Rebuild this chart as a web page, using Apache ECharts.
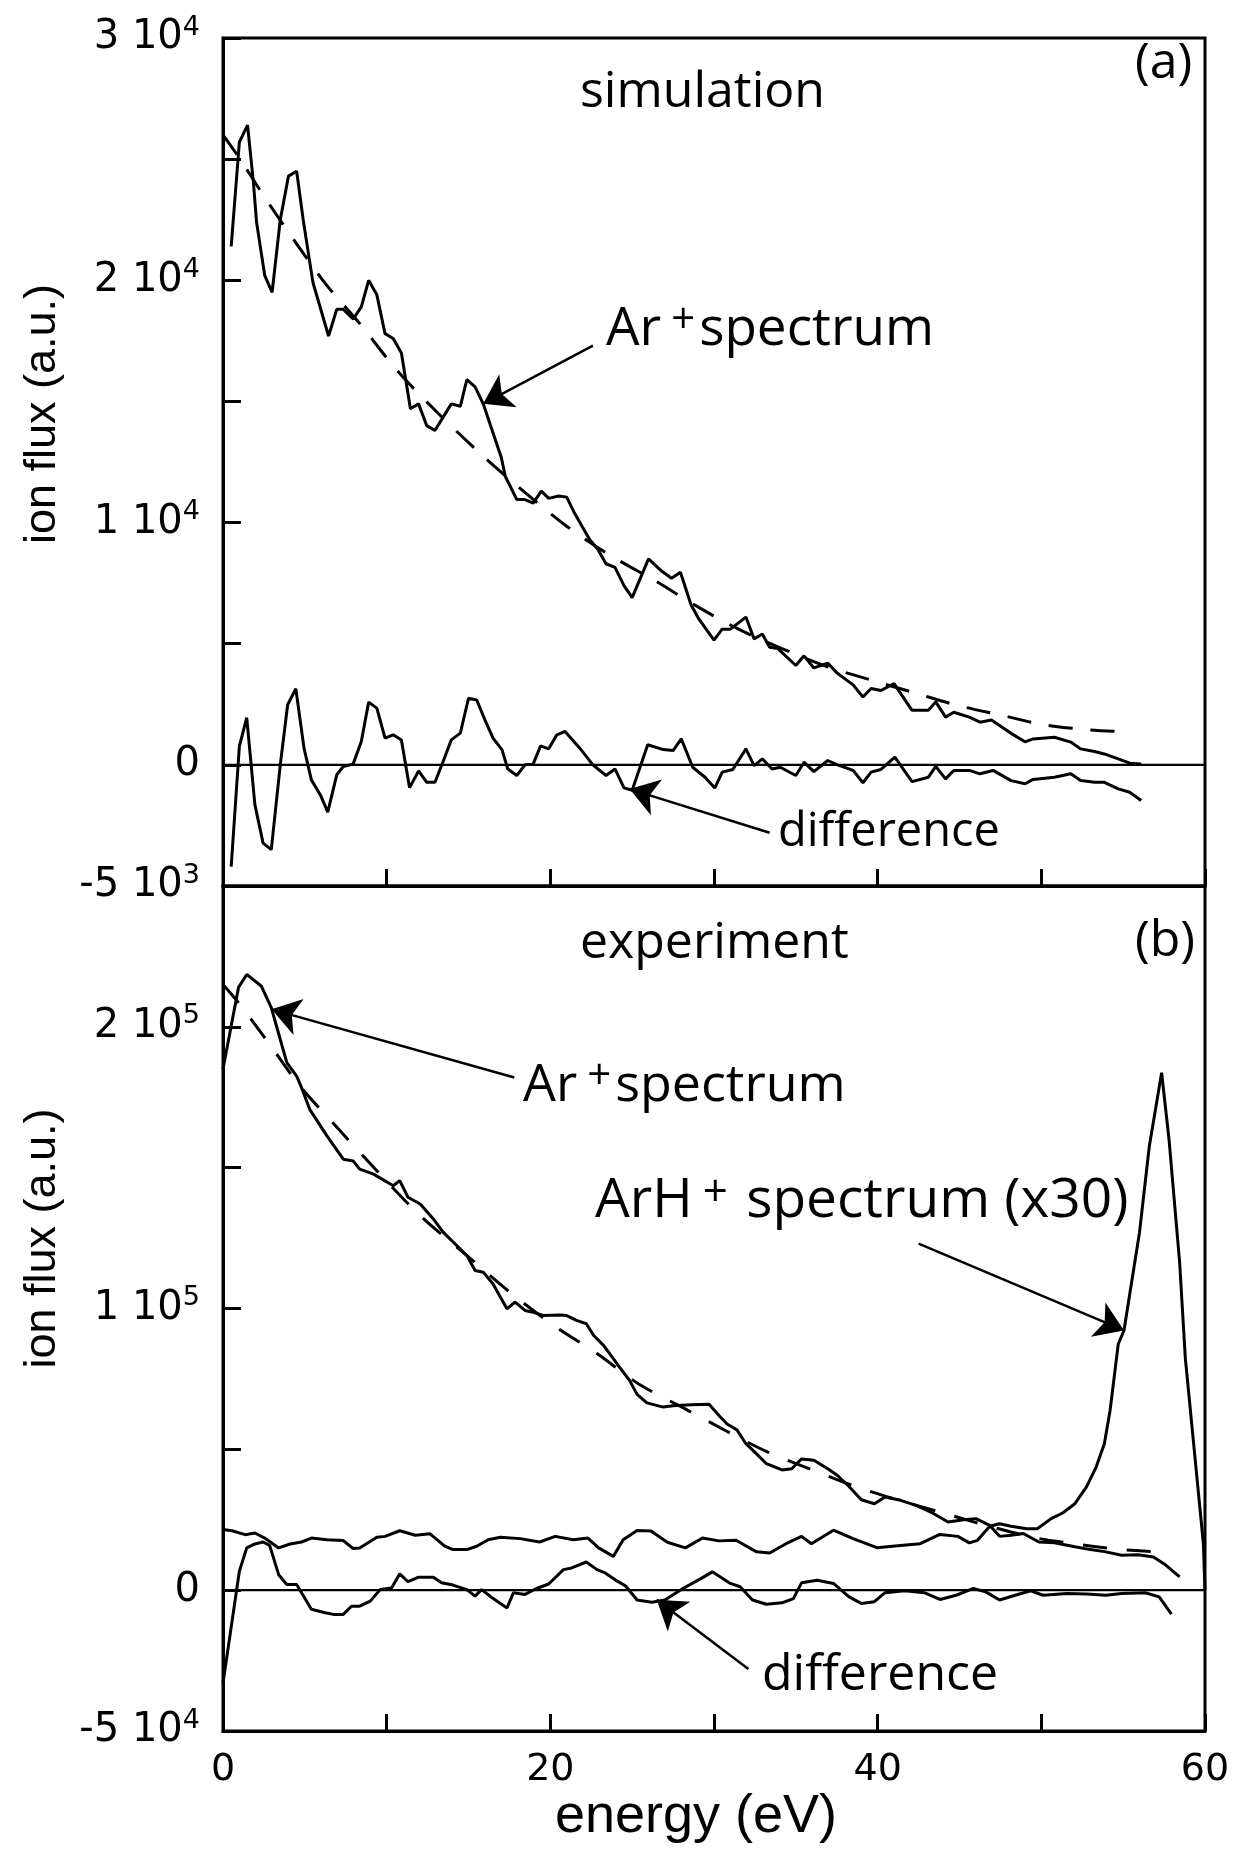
<!DOCTYPE html>
<html><head><meta charset="utf-8">
<script src="https://cdn.jsdelivr.net/npm/echarts@6/dist/echarts.min.js"></script>
<style>html,body{margin:0;padding:0;background:#fff}#c{width:1239px;height:1856px}</style>
</head><body><div id="c"></div>
<script>
// ---------- DATA (energy in eV, ion flux in units of 10^3 a.u.) ----------
// (a) simulation: Ar+ spectrum
const simSpecE = [0.5,1.0,1.5,1.85,2.05,2.55,3.0,3.5,4.0,4.5,4.9,5.3,5.5,6.45,6.95,7.35,7.95,8.45,8.9,9.4,9.9,10.4,10.9,11.45,11.95,12.45,12.95,13.95,14.5,14.9,15.4,15.9,16.5,17.0,17.25,17.55,17.95,18.45,18.95,19.45,19.9,20.5,21.0,21.5,22.4,22.9,23.4,23.95,24.5,25.0,26.0,26.8,27.4,27.95,28.6,29.05,30.0,30.5,31.0,31.95,32.45,32.95,33.4,33.9,35.0,35.5,36.1,36.95,37.5,38.5,39.1,39.6,40.2,41.0,42.1,43.1,43.55,44.15,44.65,45.6,46.25,46.95,48.15,49.0,49.5,50.8,51.8,52.4,53.25,53.85,54.7,55.4,56.1];
const simSpecV = [21.4,25.7,26.4,24.1,22.4,20.2,19.5,22.5,24.3,24.5,22.5,20.75,19.9,17.7,18.8,18.8,18.4,18.9,20.0,19.4,17.8,17.6,17.0,14.7,14.9,14.0,13.8,14.9,14.8,15.9,15.6,14.9,13.7,12.7,11.9,11.5,10.95,10.95,10.8,11.3,11.0,11.1,11.05,10.36,9.3,8.9,8.3,8.15,7.4,6.9,8.5,8.0,7.7,7.95,6.6,6.05,5.15,5.6,5.6,6.1,5.2,5.4,4.85,4.8,4.1,4.5,4.0,4.2,3.8,3.3,2.8,3.15,3.07,3.35,2.25,2.25,2.6,1.97,2.17,1.97,1.76,1.85,1.3,0.95,1.07,1.14,0.94,0.66,0.55,0.45,0.25,0.07,0.04];
// (a) simulation: fit (dashed)
const simFitE = [0,1.04,2.67,4.4,6.33,8.37,10.61,13.16,15.8,18.35,21.0,23.6,26.4,29.07,31.5,34.15,36.93,39.6,42.36,44.9,47.55,50.2,52.85,55.5];
const simFitV = [26.0,25.0,23.3,21.6,19.8,18.2,16.3,14.5,12.8,11.3,9.85,8.67,7.6,6.5,5.6,4.8,4.05,3.5,2.95,2.45,2.05,1.65,1.45,1.35];
// (a) simulation: difference
const simDiffE = [0.5,1.0,1.45,1.95,2.45,2.95,3.5,3.95,4.45,4.95,5.4,5.95,6.4,6.95,7.35,7.95,8.45,8.9,9.4,9.9,10.4,10.9,11.4,11.95,12.45,12.95,13.45,13.95,14.5,15.0,15.5,16.0,16.5,17.05,17.4,17.95,18.45,18.95,19.4,19.9,20.4,20.9,21.8,22.6,23.4,23.95,24.5,25.0,25.95,26.9,27.5,28.0,28.7,29.45,30.05,30.5,31.15,31.95,32.45,32.95,33.55,34.05,35.0,35.5,36.1,36.95,37.55,38.5,39.1,39.6,40.2,41.05,42.1,43.1,43.55,44.15,44.65,45.6,46.25,47.05,48.15,49.0,49.5,50.8,51.8,52.4,53.25,53.85,54.7,55.4,56.1];
const simDiffV = [-4.2,0.76,1.95,-1.65,-3.23,-3.5,0,2.48,3.14,0.69,-0.62,-1.24,-1.95,-0.41,-0.07,0.03,0.96,2.59,2.34,1.1,1.24,1.03,-0.94,-0.25,-0.72,-0.72,0.14,1.03,1.31,2.75,2.68,1.86,1.1,0.62,-0.17,-0.44,0,0.03,0.78,0.66,1.24,1.38,0.69,0,-0.44,-0.17,-0.95,-1.05,0.83,0.63,0.59,1.07,-0.1,-0.51,-0.96,-0.3,-0.19,0.66,-0.03,0.25,-0.17,-0.1,-0.44,0.11,-0.28,0.18,0,-0.23,-0.74,-0.3,-0.19,0.32,-0.69,-0.51,-0.06,-0.58,-0.23,-0.23,-0.37,-0.23,-0.65,-0.78,-0.6,-0.51,-0.37,-0.65,-0.72,-0.72,-0.99,-1.13,-1.47];

// (b) experiment: Ar+ spectrum
const expSpecE = [0,0.95,1.45,2.35,2.95,3.5,3.9,4.5,4.8,5.3,6.35,7.35,7.95,8.35,9.2,10.4,10.8,11.3,12.05,12.85,13.45,14.9,15.4,15.9,16.5,17.35,17.85,18.45,18.95,19.55,20.6,21.0,21.6,22.2,22.65,23.25,23.85,24.3,24.85,25.3,25.9,26.9,27.5,28.6,29.7,30.3,30.8,31.4,31.95,32.6,33.2,34.15,34.75,35.35,36.1,36.95,37.55,38.25,39.0,39.8,40.45,41.4,42.35,43.35,44.3,45.25,46.0,46.85,47.45,48.15,48.9,49.85,50.8,52.05,53.0,53.95,54.9,55.9,56.85,57.6,58.45];
const expSpecV = [185,214,218.6,214.4,206.8,195.5,187.3,182.5,178.4,170.7,161.3,153,152.4,149.5,147.7,143.6,145.4,139.5,137.1,131.8,127.1,118.8,113.5,112.9,108.7,99.9,102.3,99.3,98.7,97.5,97.7,97.5,95.8,94.6,90.4,86.9,82.2,78.6,74.4,69.5,66.5,65,65.5,65.8,66,62,59,56.9,52,48.4,44.9,42.7,43.1,46.6,46.1,43.1,40.7,36.8,32.1,30.7,33.1,31.9,30.1,27.4,24.2,25,25.4,23,19.1,19.5,20.1,17.1,16.8,15.4,14.4,13.6,12.4,12.6,11.8,8.9,4.7];
// (b) experiment: fit (dashed)
const expFitE = [0,0.95,2.95,4.7,7.25,9.7,12.15,14.9,17.65,20.2,22.85,25.45,28.1,30.75,33.3,36.1,38.75,41.65,44.3,47.0,49.7,52.0,54.55,57.35];
const expFitV = [215,208.5,193,179,162.5,147,132.4,118.8,105.2,94,84,73,64.8,56.5,49,42.5,36.6,31.3,26.9,22.4,18.5,16.5,14.6,13.5];
// (b) experiment: ArH+ spectrum (x30)
const arhE = [0,0.55,1.35,1.95,2.55,3.4,4.1,4.8,5.4,6.35,7.35,7.95,8.35,9.4,9.9,10.8,11.75,12.65,13.55,14.05,14.9,15.5,16.2,16.95,18.15,19.35,20.3,21.4,22.3,22.95,23.85,24.45,25.3,26.15,27.15,28.25,29.3,30.3,31.35,32.6,33.4,34.4,35.35,35.95,37.3,38.5,39.95,41.4,42.6,43.8,44.9,45.6,46.1,46.85,47.45,48.15,49.1,49.75,50.6,51.3,52.05,52.75,53.35,53.85,54.2,54.45,54.7,55.05,56.0,56.6,57.35,57.8,58.45,58.8,59.9,60];
const arhV = [21.5,21.1,19.7,20.3,18.5,15.0,16.4,17.1,18.5,17.9,17.6,14.8,15.0,18.8,19.1,21.1,19.5,20.0,15.6,14.4,14.4,15.6,17.9,18.8,18.3,17.1,19.1,17.9,18.5,15.0,12.0,17.9,21.2,21.0,17.0,15.0,18.5,17.5,17.7,13.6,13.2,16.5,19.1,16.5,21.3,18.3,15.1,15.9,16.5,19.8,19.1,16.8,17.7,22.7,23.6,22.7,21.8,21.8,25.4,27.4,30.7,36.6,43.7,52.0,63.8,75.6,87.4,92.2,127.1,157.7,183.7,160.1,116.4,82.2,16.5,0];
// (b) experiment: difference
const expDiffE = [0,1.0,1.45,1.95,2.45,2.85,3.4,3.9,4.5,4.8,5.4,6.25,6.75,7.35,7.85,8.35,9.0,9.6,10.3,10.8,11.3,11.95,12.85,13.35,14.05,14.9,15.4,15.8,16.4,17.35,17.75,18.45,19.15,19.9,20.8,21.3,22.2,22.85,23.35,24.1,24.6,25.3,26.2,27.0,28.1,29.2,29.9,31.0,31.6,32.35,33.2,34.15,34.85,35.35,36.3,37.3,38.25,39.0,39.8,40.45,41.65,42.85,43.8,44.8,45.85,46.6,47.45,48.4,49.35,50.1,51.55,52.75,53.95,54.9,56.35,57.2,57.95];
const expDiffV = [-33,6.7,15.0,16.4,17.1,15.9,5.5,2.0,2.0,-0.9,-6.8,-8.0,-8.6,-8.6,-5.7,-5.7,-3.9,0.2,0.8,5.8,3.0,4.6,4.6,2.6,1.8,0.2,-2.1,0.2,-2.5,-6.3,-0.9,-1.5,0.6,2.2,7.3,7.9,10.0,7.3,6.1,3.2,1.5,-3.5,-4.3,-3.5,0.6,4.1,6.5,2.4,1.2,-3.5,-5.0,-4.5,-3.0,2.6,3.5,2.4,-2.4,-4.7,-4.1,-0.9,-0.2,-0.9,-3.3,-1.8,0.6,-0.6,-3.5,-1.8,-0.2,-1.8,-1.2,-1.4,-1.8,-1.2,-0.9,-2.4,-8.5];

// zero reference lines
const zeroLineE = [0, 60];
const zeroLineV = [0, 0];

// annotation arrows: [fromE, fromV, toE, toV]
const topArrows = [[22.6, 17.3, 15.9, 14.9], [33.4, -2.8, 24.85, -1.0]];
const botArrows = [[17.8, 182, 2.97, 206.2], [42.5, 123, 55.05, 92.2], [32.1, -28, 26.5, -3.4]];

// tick labels
const xTickValues = [0, 20, 40, 60];
const topTickValues = [30, 20, 10, 0, -5];
const topTickMain = ['3 10', '2 10', '1 10', '0', '-5 10'];
const topTickExp = ['4', '4', '4', '', '3'];
const botTickValues = [200, 100, 0, -50];
const botTickMain = ['2 10', '1 10', '0', '-5 10'];
const botTickExp = ['5', '5', '', '4'];

// ---------- CHART ----------
const zip = (a, b) => a.map((x, i) => [x, b[i]]);
const BLACK = '#000';
const LW = 3;

function tickFormatter(vals, main, exp) {
  return function (v) {
    const i = vals.findIndex(t => Math.abs(t - v) < 1e-9);
    if (i < 0) return '';
    return '{n|' + main[i] + '}' + (exp[i] ? '{s|' + exp[i] + '}' : '');
  };
}
const tickRich = {
  n: { fontFamily: 'DejaVu Sans', fontSize: 40, lineHeight: 48, color: BLACK },
  s: { fontFamily: 'DejaVu Sans', fontSize: 27, lineHeight: 20, verticalAlign: 'top', color: BLACK }
};

function xAxisCfg(gridIndex, showLabels) {
  return {
    type: 'value', gridIndex, min: 0, max: 60, interval: 10,
    axisLine: { show: true, onZero: false, lineStyle: { color: BLACK, width: LW } },
    axisTick: { show: true, inside: true, length: 17, lineStyle: { color: BLACK, width: LW } },
    splitLine: { show: false },
    axisLabel: showLabels ? {
      show: true, margin: 20, color: BLACK, fontFamily: 'DejaVu Sans', fontSize: 38,
      formatter: v => (xTickValues.indexOf(v) >= 0 ? String(v) : '')
    } : { show: false },
    name: showLabels ? 'energy (eV)' : '',
    nameLocation: 'middle', nameGap: 58,
    nameTextStyle: { fontFamily: 'Liberation Sans', fontSize: 54, color: BLACK, padding: [0, 36, 0, 0] }
  };
}
function yAxisCfg(gridIndex, min, max, interval, fmt, shiftPad) {
  return {
    type: 'value', gridIndex, min, max, interval,
    axisLine: { show: true, onZero: false, lineStyle: { color: BLACK, width: LW } },
    axisTick: { show: true, inside: true, length: 18, lineStyle: { color: BLACK, width: LW } },
    splitLine: { show: false },
    axisLabel: { show: true, margin: 23, formatter: fmt, rich: tickRich },
    name: 'ion flux (a.u.)', nameLocation: 'middle', nameGap: 158,
    nameTextStyle: { fontFamily: 'Liberation Sans', fontSize: 45, color: BLACK, padding: [0, 0, 0, shiftPad] }
  };
}

function lineSeries(xi, data, opts) {
  return Object.assign({
    type: 'line', xAxisIndex: xi, yAxisIndex: xi, data, showSymbol: false, symbol: 'none',
    animation: false, silent: true,
    lineStyle: { color: BLACK, width: LW }
  }, opts || {});
}
function arrowSeries(xi, arrows) {
  return {
    type: 'lines', coordinateSystem: 'cartesian2d', xAxisIndex: xi, yAxisIndex: xi,
    symbol: ['none', 'arrow'], symbolSize: [0, 28], animation: false, silent: true,
    lineStyle: { color: BLACK, width: 2.5, opacity: 1, curveness: 0 },
    data: arrows.map(a => ({ coords: [[a[0], a[1]], [a[2], a[3]]] }))
  };
}

function richFor(size) {
  return {
    a: { fontFamily: 'Open Sans', fontSize: size, lineHeight: 60, color: BLACK },
    s: { fontFamily: 'Open Sans', fontSize: Math.round(size * 0.8), lineHeight: 26, verticalAlign: 'top', color: BLACK, padding: [0, 4, 0, 10] }
  };
}
function txt(x, y, text, size) {
  return { type: 'text', x, y, z: 100, silent: true, style: { text, rich: richFor(size || 50), fill: BLACK } };
}

const option = {
  animation: false,
  backgroundColor: '#fff',
  grid: [
    { left: 223, top: 38, width: 982, height: 848, show: true, borderColor: BLACK, borderWidth: LW, backgroundColor: 'transparent' },
    { left: 223, top: 886, width: 982, height: 845, show: true, borderColor: BLACK, borderWidth: LW, backgroundColor: 'transparent' }
  ],
  xAxis: [xAxisCfg(0, false), xAxisCfg(1, true)],
  yAxis: [
    yAxisCfg(0, -5, 30, 5, tickFormatter(topTickValues, topTickMain, topTickExp), 96),
    yAxisCfg(1, -50, 250, 50, tickFormatter(botTickValues, botTickMain, botTickExp), 140)
  ],
  series: [
    lineSeries(0, zip(zeroLineE, zeroLineV), { lineStyle: { color: BLACK, width: 2.4 } }),
    lineSeries(0, zip(simFitE, simFitV), { smooth: 0.3, lineStyle: { color: BLACK, width: LW, type: [24, 18] } }),
    lineSeries(0, zip(simSpecE, simSpecV)),
    lineSeries(0, zip(simDiffE, simDiffV)),
    arrowSeries(0, topArrows),
    lineSeries(1, zip(zeroLineE, zeroLineV), { lineStyle: { color: BLACK, width: 2.4 } }),
    lineSeries(1, zip(expFitE, expFitV), { smooth: 0.3, lineStyle: { color: BLACK, width: LW, type: [24, 20] } }),
    lineSeries(1, zip(expSpecE, expSpecV)),
    lineSeries(1, zip(arhE, arhV)),
    lineSeries(1, zip(expDiffE, expDiffV)),
    arrowSeries(1, botArrows)
  ],
  graphic: [
    txt(580, 63, '{a|simulation}'),
    txt(1135, 34, '{a|(a)}'),
    txt(606, 300, '{a|Ar}{s|+}{a|spectrum}', 53),
    txt(778, 803, '{a|difference}', 47),
    txt(580, 914, '{a|experiment}'),
    txt(1135, 912, '{a|(b)}'),
    txt(523, 1056, '{a|Ar}{s|+}{a|spectrum}', 52),
    txt(595, 1171, '{a|ArH}{s|+}{a| spectrum (x30)}', 55),
    txt(762, 1646, '{a|difference}')
  ]
};

const chart = echarts.init(document.getElementById('c'), null, { renderer: 'canvas' });
chart.setOption(option);
</script></body></html>
